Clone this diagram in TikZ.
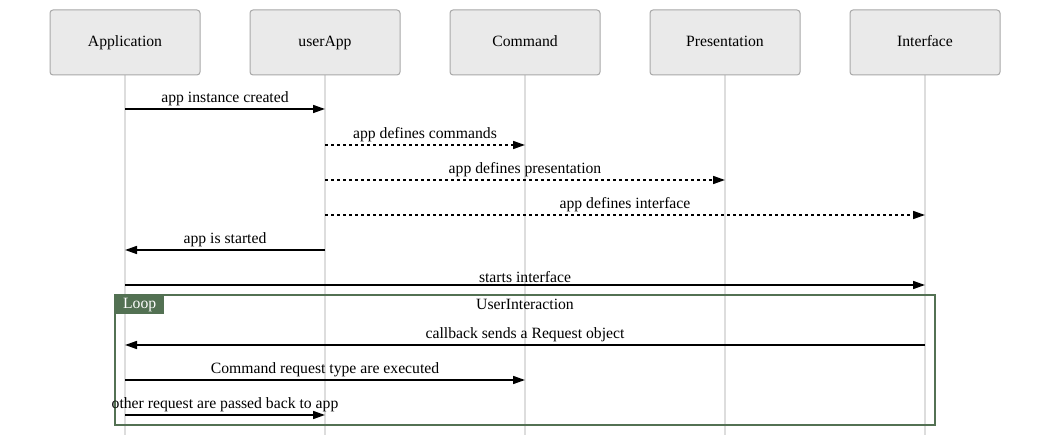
\documentclass[tikz,border=0pt]{standalone}
\usepackage{fontspec}
\setmainfont{Liberation Serif}
\usetikzlibrary{arrows.meta,positioning}

\definecolor{actorfill}{HTML}{EAEAEA}
\definecolor{actorline}{HTML}{A8A8A8}
\definecolor{lifeline}{HTML}{DDDDDD}
\definecolor{loopgreen}{HTML}{537153}

\begin{document}
\begin{tikzpicture}[
    x=1pt, y=-1pt,
    actor/.style={draw=actorline, fill=actorfill, line width=1pt, rounded corners=3pt, minimum width=150pt, minimum height=65pt, text height=11pt, text depth=3.5pt, font=\fontsize{15.7}{19}\selectfont},
    msg/.style={-{Triangle[length=12pt,width=8pt]}, line width=1.6pt},
    defmsg/.style={msg, dash pattern=on 3pt off 3pt},
    lbl/.style={above=1pt, midway, font=\fontsize{15.7}{19}\selectfont, inner sep=1pt},
    life/.style={draw=lifeline, line width=1.5pt}
]
\useasboundingbox (0,0) rectangle (1050,435);

% lifelines first, so boxes sit on top
\foreach \x in {125,325,525,725,925}
    \draw[life] (\x,75) -- (\x,435);

\node[actor] (app) at (125,42.5) {Application};
\node[actor] (user) at (325,42.5) {userApp};
\node[actor] (cmd) at (525,42.5) {Command};
\node[actor] (pres) at (725,42.5) {Presentation};
\node[actor] (iface) at (925,42.5) {Interface};

% loop frame
\draw[draw=loopgreen, line width=1.6pt] (115,295) rectangle (935,425);
\node[fill=loopgreen, text=white, anchor=north west, minimum width=49pt, minimum height=19pt, inner sep=0pt, font=\fontsize{15.7}{19}\selectfont] (loop) at (115,295) {Loop};
\node[font=\fontsize{15.7}{19}\selectfont] (loopname) at (525,304) {UserInteraction};

% messages
\draw[msg] (app |- 0,109) -- (user |- 0,109) node[lbl] {app instance created};
\draw[defmsg] (user |- 0,145) -- (cmd |- 0,145) node[lbl] {app defines commands};
\draw[defmsg] (user |- 0,180) -- (pres |- 0,180) node[lbl] {app defines presentation};
\draw[defmsg] (user |- 0,215) -- (iface |- 0,215) node[lbl] {app defines interface};
\draw[msg] (user |- 0,250) -- (app |- 0,250) node[lbl] {app is started};
\draw[msg] (app |- 0,285) -- (iface |- 0,285) node[lbl] {starts interface};
\draw[msg] (iface |- 0,345) -- (app |- 0,345) node[lbl] {callback sends a Request object};
\draw[msg] (app |- 0,380) -- (cmd |- 0,380) node[lbl] {Command request type are executed};
\draw[msg] (app |- 0,415) -- (user |- 0,415) node[lbl] {other request are passed back to app};
\end{tikzpicture}
\end{document}
